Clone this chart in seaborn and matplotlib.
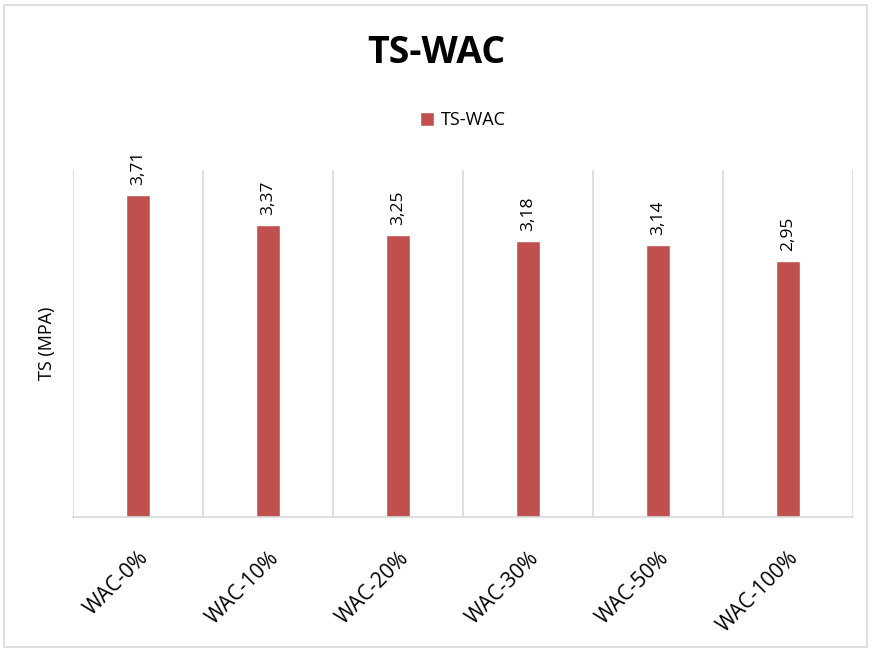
import pandas as pd
import seaborn as sns
import matplotlib.pyplot as plt
from matplotlib.patches import Rectangle
from matplotlib.ticker import FixedLocator

categories = ['WAC-0%', 'WAC-10%', 'WAC-20%', 'WAC-30%', 'WAC-50%', 'WAC-100%']
ts_values = [3.71, 3.37, 3.25, 3.18, 3.14, 2.95]
series_name = 'TS-WAC'

df = pd.DataFrame({'cat': categories, 'ts': ts_values, 'series': series_name})

sns.set_style('white')
plt.rcParams['font.family'] = ['Open Sans', 'DejaVu Sans']
plt.rcParams['text.color'] = 'black'
plt.rcParams['axes.labelcolor'] = 'black'
plt.rcParams['xtick.color'] = 'black'

fig = plt.figure(figsize=(8.73, 6.5), dpi=100)
ax = fig.add_axes([0.0836, 0.2046, 0.8935, 0.5339])

sns.barplot(data=df, x='cat', y='ts', hue='series', palette=['#C0504D'],
            saturation=1, width=0.185, ax=ax, legend=True)

ax.set_ylim(0, 4)
ax.set_xlim(-0.5, len(categories) - 0.5)
ax.set_yticks([])
ax.set_xlabel('')
ax.set_ylabel('TS (MPA)', fontsize=13, labelpad=12)

# value labels, rotated like the original
for cont in ax.containers:
    ax.bar_label(cont, labels=[f'{v:.2f}'.replace('.', ',') for v in ts_values],
                 rotation=90, padding=7, fontsize=12.5)

# gridlines between categories
ax.xaxis.set_minor_locator(FixedLocator([i - 0.5 for i in range(len(categories) + 1)]))
ax.grid(which='minor', axis='x', color='#d9d9d9', linewidth=1.2)
ax.tick_params(axis='x', which='both', length=0)
ax.set_xticks(range(len(categories)))
ax.set_xticklabels(categories, rotation=45, ha='right', rotation_mode='anchor', fontsize=15)
ax.tick_params(axis='x', pad=22)

for s in ['top', 'right', 'left']:
    ax.spines[s].set_visible(False)
ax.spines['bottom'].set_color('#d9d9d9')
ax.spines['bottom'].set_linewidth(1.2)

ax.legend(loc='lower center', bbox_to_anchor=(0.5, 1.07), frameon=False, fontsize=13,
          handlelength=0.8, handleheight=0.8, handletextpad=0.4)

fig.suptitle('TS-WAC', fontsize=27, fontweight='bold', y=0.948)

fig.patches.append(Rectangle((0.005, 0.005), 0.988, 0.988, transform=fig.transFigure,
                             fill=False, edgecolor='#d9d9d9', linewidth=1.2))

fig.savefig('out.png', dpi=100)
